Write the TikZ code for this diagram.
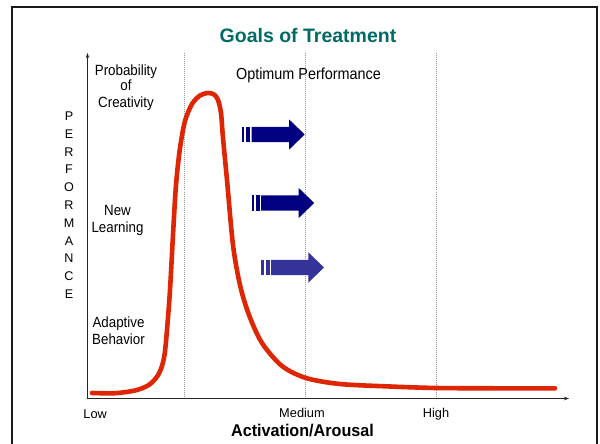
\documentclass[tikz,border=0pt]{standalone}
\usepackage{fontspec}
\setmainfont{Liberation Sans}
\newfontfamily\narrowfont{Liberation Sans}[FakeStretch=0.9]
\newfontfamily\boldnarrow{Liberation Sans}[FakeStretch=0.95]
\usetikzlibrary{arrows.meta}
\definecolor{titleteal}{RGB}{0,107,102}
\definecolor{curvered}{RGB}{222,38,5}
\definecolor{navyarrow}{RGB}{0,0,128}
\definecolor{bluearrow}{RGB}{51,51,153}
\definecolor{dotgray}{RGB}{150,150,150}
\begin{document}
\begin{tikzpicture}[x=1pt,y=-1pt,
  lbl/.style={font=\narrowfont\fontsize{14.8}{16}\selectfont, anchor=base, inner sep=0pt},
  optlbl/.style={font=\narrowfont\fontsize{16}{18}\selectfont, anchor=base, inner sep=0pt},
  axlbl/.style={font=\fontsize{12.8}{15}\selectfont, anchor=base, inner sep=0pt},
  perf/.style={font=\fontsize{12.6}{15}\selectfont, anchor=base, inner sep=0pt},
  titlestyle/.style={font=\bfseries\fontsize{19.5}{22}\selectfont, text=titleteal, anchor=base, inner sep=0pt},
  axtitle/.style={font=\boldnarrow\bfseries\fontsize{17}{20}\selectfont, anchor=base, inner sep=0pt},
  axisline/.style={line width=0.8pt, draw=black!85, -{Stealth[length=5pt,width=3.5pt]}},
  guide/.style={draw=dotgray, line width=0.8pt, dash pattern=on 0.8pt off 1.2pt},
  curve/.style={draw=curvered, line width=4.6pt, line cap=round, line join=round}
]
\useasboundingbox (0,0) rectangle (600,444);
\fill[white] (0,0) rectangle (600,444);
% frame
\draw[line width=2.5pt, draw=black!90] (12,7) rectangle (597,470);

% title
\node[titlestyle] (title) at (308,42.7) {Goals of Treatment};

% guide lines
\foreach \gx/\gn in {184.3/ga,305.5/gb,436/gc}{
  \coordinate (\gn top) at (\gx,53.5);
  \coordinate (\gn bot) at (\gx,398);
  \draw[guide] (\gn top) -- (\gn bot);
}

% axes
\coordinate (origin) at (87.5,398.5);
\coordinate (ytip) at (87.5,53);
\coordinate (xtip) at (569,398.5);
\draw[axisline] (origin) -- (ytip);
\draw[axisline] (origin) -- (xtip);

% left labels
\node[lbl] (prob1) at (126,75) {Probability};
\node[lbl] (prob2) at (126,91) {of};
\node[lbl] (prob3) at (126,107.3) {Creativity};
\node[lbl] (new1) at (117.5,215.5) {New};
\node[lbl] (new2) at (117.5,232.5) {Learning};
\node[lbl] (ad1) at (118.5,327.7) {Adaptive};
\node[lbl] (ad2) at (118.5,344.2) {Behavior};

% PERFORMANCE
\foreach \c [count=\i from 0] in {P,E,R,F,O,R,M,A,N,C,E}{
  \node[perf] (perf\i) at (69,120.7+17.76*\i) {\c};
}

% Optimum performance
\node[optlbl] (opt) at (308.5,79.3) {Optimum Performance};

% axis labels
\node[axlbl] (low) at (95.2,418) {Low};
\node[axlbl] (med) at (302,417) {Medium};
\node[axlbl] (high) at (436,417.3) {High};
\node[axtitle] (xtitle) at (302.5,436) {Activation/Arousal};

% red curve
\draw[curve] plot[smooth, tension=0.5] coordinates {
 (92,393) (115,393.2) (135,390.5) (148,385.5) (156,378) (161,369) (164.5,355)
 (167,330) (170,290) (173,235) (176,185) (180,148) (185,121) (192,104)
 (200,95.5) (208,93) (214,94.5) (218,100) (221,113) (223,138) (227,180)
 (233,245) (240,285) (249,315) (262,343) (282,366) (306,378) (340,384)
 (390,386.5) (436,388) (495,388.3) (555,388.3)};

% block arrows
\foreach \ax/\ay/\col in {242/134.5/navyarrow, 251.5/203/navyarrow, 261.3/267.5/bluearrow}{
  \fill[\col] (\ax,\ay-7.7) rectangle (\ax+2.3,\ay+7.7);
  \fill[\col] (\ax+4.2,\ay-7.7) rectangle (\ax+8.2,\ay+7.7);
  \fill[\col] (\ax+9.7,\ay-7.7) -- (\ax+47,\ay-7.7) -- (\ax+47,\ay-15.2)
     -- (\ax+62.7,\ay) -- (\ax+47,\ay+15.2) -- (\ax+47,\ay+7.7)
     -- (\ax+9.7,\ay+7.7) -- cycle;
}
\end{tikzpicture}
\end{document}
